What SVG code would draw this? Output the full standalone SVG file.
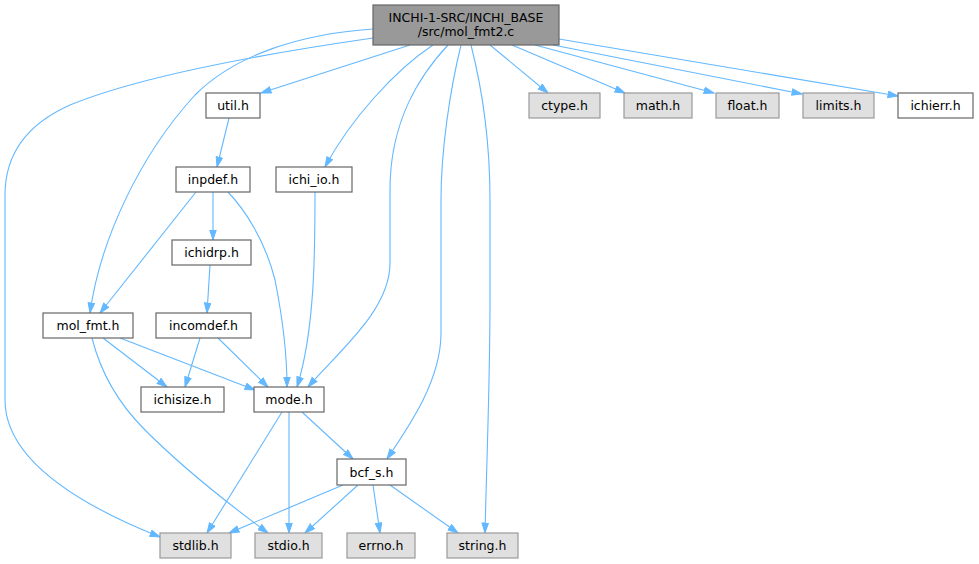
<svg xmlns="http://www.w3.org/2000/svg" width="979" height="564" viewBox="0 0 979 564">
<style>
.n rect{fill:#ffffff;stroke:#666666;stroke-width:1.2}
.g rect{fill:#e0e0e0;stroke:#999999;stroke-width:1.2}
.r rect{fill:#999999;stroke:#666666;stroke-width:1.2}
text{font-family:"DejaVu Sans","Liberation Sans",sans-serif;font-size:12.5px;fill:#000000;text-anchor:middle}
#edges path{fill:none;stroke:#63b8ff;stroke-width:1.1;marker-end:url(#ah)}
</style>
<defs>
<marker id="ah" markerUnits="userSpaceOnUse" markerWidth="12" markerHeight="9" refX="10.5" refY="3.75" orient="auto">
<path d="M0.5,0.5 L10.5,3.75 L0.5,7 z" fill="#63b8ff" stroke="#63b8ff" stroke-width="1"/>
</marker>
</defs>
<rect width="979" height="564" fill="#ffffff"/>
<g id="edges">
<path d="M373,38 C290,50 150,72 70,105 C25,125 5,155 5,195 L5,400 C5,460 80,505 160,537"/>
<path d="M373,29 C300,34 235,55 195,95 C140,155 100,240 90,313"/>
<path d="M410,45 L261,93"/>
<path d="M433,45 C395,70 350,120 325,167"/>
<path d="M448,45 C420,75 390,120 390,190 L390,263 C390,310 340,350 308,387"/>
<path d="M461,45 C450,90 441,150 441,200 L441,333 C441,380 410,425 387,459"/>
<path d="M471,45 C485,100 490,150 490,200 L490,300 C490,380 487,450 485,533"/>
<path d="M490,45 L548,93"/>
<path d="M512,45 L625,93"/>
<path d="M535,45 L714,93"/>
<path d="M553,45 L802,94"/>
<path d="M559,39 L898,96"/>
<path d="M229,118 L217,167"/>
<path d="M213,192 L213,240"/>
<path d="M196,192 L100,313"/>
<path d="M228,192 C245,210 265,240 275,280 C282,315 287,355 287,387"/>
<path d="M315,192 C315,250 315,330 297,387"/>
<path d="M210,265 L207,313"/>
<path d="M200,338 L185,387"/>
<path d="M218,338 L268,387"/>
<path d="M103,338 L167,387"/>
<path d="M120,338 L255,390"/>
<path d="M92,338 C100,370 115,400 145,430 C180,465 230,505 268,533"/>
<path d="M282,412 L207,533"/>
<path d="M289,412 L289,533"/>
<path d="M302,412 L353,459"/>
<path d="M343,485 L229,533"/>
<path d="M358,485 L305,533"/>
<path d="M373,485 L380,533"/>
<path d="M390,485 L458,533"/>
</g>
<g id="root" class="r"><rect x="373" y="5" width="186" height="40"/><text x="466" y="21.5">INCHI-1-SRC/INCHI_BASE</text><text x="466" y="36">/src/mol_fmt2.c</text></g>
<g id="util_h" class="n"><rect x="206" y="93" width="54" height="25"/><text x="233" y="110">util.h</text></g>
<g id="inpdef_h" class="n"><rect x="176" y="167" width="74" height="25"/><text x="213" y="184">inpdef.h</text></g>
<g id="ichi_io_h" class="n"><rect x="276" y="167" width="76" height="25"/><text x="314" y="184">ichi_io.h</text></g>
<g id="ctype_h" class="g"><rect x="529" y="93" width="71" height="25"/><text x="564.5" y="110">ctype.h</text></g>
<g id="math_h" class="g"><rect x="624" y="93" width="68" height="25"/><text x="658" y="110">math.h</text></g>
<g id="float_h" class="g"><rect x="716" y="93" width="63" height="25"/><text x="747.5" y="110">float.h</text></g>
<g id="limits_h" class="g"><rect x="803" y="93" width="71" height="25"/><text x="838.5" y="110">limits.h</text></g>
<g id="ichierr_h" class="n"><rect x="898" y="93" width="75" height="25"/><text x="935.5" y="110">ichierr.h</text></g>
<g id="ichidrp_h" class="n"><rect x="172" y="240" width="79" height="25"/><text x="211.5" y="257">ichidrp.h</text></g>
<g id="mol_fmt_h" class="n"><rect x="43" y="313" width="90" height="25"/><text x="88" y="330">mol_fmt.h</text></g>
<g id="incomdef_h" class="n"><rect x="156" y="313" width="95" height="25"/><text x="203.5" y="330">incomdef.h</text></g>
<g id="ichisize_h" class="n"><rect x="141" y="387" width="83" height="25"/><text x="182.5" y="404">ichisize.h</text></g>
<g id="mode_h" class="n"><rect x="254" y="387" width="70" height="25"/><text x="289" y="404">mode.h</text></g>
<g id="bcf_s_h" class="n"><rect x="337" y="459" width="69" height="26"/><text x="371.5" y="477">bcf_s.h</text></g>
<g id="stdlib_h" class="g"><rect x="160" y="533" width="71" height="25"/><text x="195.5" y="550">stdlib.h</text></g>
<g id="stdio_h" class="g"><rect x="255" y="533" width="67" height="25"/><text x="288.5" y="550">stdio.h</text></g>
<g id="errno_h" class="g"><rect x="347" y="533" width="68" height="25"/><text x="381" y="550">errno.h</text></g>
<g id="string_h" class="g"><rect x="447" y="533" width="71" height="25"/><text x="482.5" y="550">string.h</text></g>
</svg>
